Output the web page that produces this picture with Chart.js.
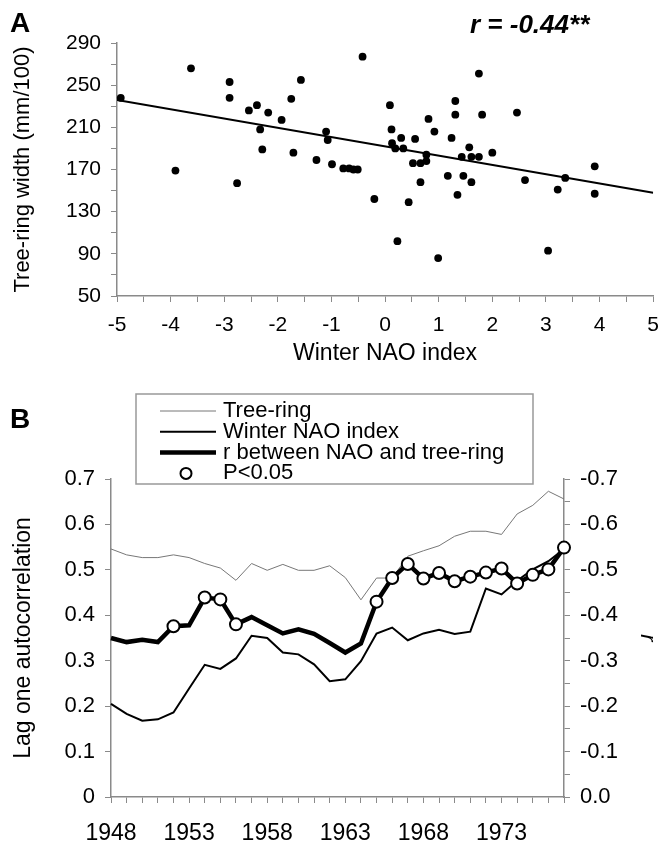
<!DOCTYPE html>
<html>
<head>
<meta charset="utf-8">
<script src="https://cdn.jsdelivr.net/npm/chart.js@4.4.1/dist/chart.umd.min.js"></script>
<style>
  body { margin: 0; background: #fff; font-family: "Liberation Sans", Arial, sans-serif; }
  #wrap { position: relative; width: 670px; height: 845px; overflow: hidden; }
  canvas { position: absolute; left: 0; }
  .tag { position: absolute; font-weight: bold; line-height: 1; color: #000; }
</style>
</head>
<body>
<div id="wrap">
  <canvas id="chartA" width="670" height="380" style="top:0"></canvas>
  <canvas id="chartB" width="670" height="465" style="top:380px"></canvas>
  <div class="tag" style="left:10px; top:9px; font-size:28px;">A</div>
  <div class="tag" style="left:10px; top:405px; font-size:28px;">B</div>
  <div class="tag" style="left:470px; top:11px; font-size:26px; font-style:italic;">r = -0.44**</div>
</div>
<script>
// panel A: winter NAO index vs tree-ring width
const naoIndex = [-4.93, -3.62, -3.91, -2.90, -2.90, -2.76, -2.54, -2.39, -2.33, -2.29, -2.18,
  -1.93, -1.75, -1.71, -1.57, -1.28, -1.10, -1.07, -0.99, -0.78, -0.67, -0.59, -0.51, -0.42,
  -0.20, 0.09, 0.12, 0.13, 0.19, 0.23, 0.30, 0.34, 0.44, 0.52, 0.56, 0.66, 0.66, 0.77, 0.77,
  0.81, 0.92, 0.99, 1.17, 1.24, 1.31, 1.31, 1.35, 1.43, 1.46, 1.57, 1.61, 1.61, 1.75, 1.75,
  1.81, 2.00, 2.46, 2.61, 3.04, 3.22, 3.36, 3.91, 3.91];
const ringWidth = [238, 266, 169, 253, 238, 157, 226, 231, 208, 189, 224,
  217, 237, 186, 255, 179, 206, 198, 175, 171, 171, 170, 170, 277,
  142, 231, 208, 195, 190, 102, 200, 190, 139, 176, 199, 176, 158, 184, 178,
  218, 206, 86, 164, 200, 235, 222, 146, 182, 164, 191, 182, 158, 261, 182,
  222, 186, 224, 160, 93, 151, 162, 173, 147];
const trendX = [-5, 5];
const trendY = [236, 148];

// panel B: lag one autocorrelation (left) and r (right)
const years = [];
for (let y = 1948; y <= 1977; y++) years.push(y);
const treeRing = [0.546, 0.533, 0.527, 0.527, 0.533, 0.527, 0.514, 0.504, 0.477, 0.514,
  0.499, 0.512, 0.499, 0.499, 0.509, 0.483, 0.434, 0.482, 0.482, 0.530,
  0.542, 0.553, 0.574, 0.585, 0.585, 0.578, 0.623, 0.642, 0.673, 0.656];
const naoAuto = [0.205, 0.183, 0.168, 0.171, 0.186, 0.239, 0.291, 0.282, 0.305, 0.355,
  0.350, 0.318, 0.314, 0.292, 0.255, 0.259, 0.299, 0.360, 0.373, 0.345,
  0.360, 0.368, 0.359, 0.364, 0.459, 0.446, 0.476, 0.501, 0.519, 0.546];
const rNaoRing = [-0.350, -0.341, -0.346, -0.341, -0.376, -0.378, -0.439, -0.435, -0.380, -0.396,
  -0.378, -0.360, -0.369, -0.359, -0.339, -0.318, -0.338, -0.430, -0.482, -0.513,
  -0.481, -0.493, -0.475, -0.485, -0.494, -0.503, -0.470, -0.489, -0.501, -0.549];
const significant = [0, 0, 0, 0, 1, 0, 1, 1, 1, 0, 0, 0, 0, 0, 0, 0, 0, 1, 1, 1, 1, 1, 1, 1, 1, 1, 1, 1, 1, 1];

const FONT = "'Liberation Sans', Arial, sans-serif";
const AXIS = "#8a8a8a";

const points = naoIndex.map((x, i) => ({ x: x, y: ringWidth[i] }));
const trend = trendX.map((x, i) => ({ x: x, y: trendY[i] }));

new Chart(document.getElementById("chartA"), {
  type: "scatter",
  data: {
    datasets: [
      { data: points, pointRadius: 3.9, pointBackgroundColor: "#000", pointBorderWidth: 0, clip: false },
      { type: "line", data: trend, borderColor: "#000", borderWidth: 2, pointRadius: 0, tension: 0 }
    ]
  },
  options: {
    responsive: false,
    animation: false,
    layout: { padding: { left: 0, right: 13, top: 43, bottom: 0 } },
    plugins: { legend: { display: false }, tooltip: { enabled: false } },
    scales: {
      x: {
        type: "linear", min: -5, max: 5,
        afterFit: s => { s.height = 84; },
        ticks: {
          stepSize: 0.5, autoSkip: false, maxRotation: 0, padding: 11, color: "#000",
          font: { family: FONT, size: 21 },
          callback: v => Number.isInteger(v) ? String(v) : ""
        },
        grid: { drawOnChartArea: false, tickLength: 6, color: AXIS },
        border: { color: AXIS, width: 1.5 },
        title: { display: true, text: "Winter NAO index", color: "#000", font: { family: FONT, size: 23 }, padding: { top: 0, bottom: 13 } }
      },
      y: {
        min: 50, max: 290,
        afterFit: s => { s.width = 117; },
        ticks: {
          stepSize: 20, autoSkip: false, padding: 10, color: "#000",
          font: { family: FONT, size: 21 },
          callback: v => (v - 50) % 40 === 0 ? String(v) : ""
        },
        grid: { drawOnChartArea: false, tickLength: 6, color: AXIS },
        border: { color: AXIS, width: 1.5 },
        title: { display: true, text: "Tree-ring width (mm/100)", color: "#000", font: { family: FONT, size: 22 }, padding: { top: 10, bottom: 0 } }
      }
    }
  }
});

// boxed legend of panel B, drawn over the top of the plot
const legendItems = [
  { text: "Tree-ring", kind: "line", color: "#777", width: 1 },
  { text: "Winter NAO index", kind: "line", color: "#000", width: 2 },
  { text: "r between NAO and tree-ring", kind: "line", color: "#000", width: 4.5 },
  { text: "P<0.05", kind: "dot" }
];
const boxLegend = {
  id: "boxLegend",
  afterDraw(chart) {
    const ctx = chart.ctx;
    ctx.save();
    ctx.fillStyle = "#fff";
    ctx.fillRect(136, 14, 397, 90);
    ctx.strokeStyle = "#999";
    ctx.lineWidth = 1.5;
    ctx.strokeRect(136, 14, 397, 90);
    ctx.font = "22px " + FONT;
    ctx.textBaseline = "alphabetic";
    ctx.fillStyle = "#000";
    legendItems.forEach((item, i) => {
      const base = 37 + i * 20.8;
      const my = base - 6;
      if (item.kind === "line") {
        ctx.strokeStyle = item.color;
        ctx.lineWidth = item.width;
        ctx.beginPath();
        ctx.moveTo(160, my);
        ctx.lineTo(216, my);
        ctx.stroke();
      } else {
        ctx.beginPath();
        ctx.arc(186, my, 5.5, 0, Math.PI * 2);
        ctx.fillStyle = "#fff";
        ctx.fill();
        ctx.strokeStyle = "#000";
        ctx.lineWidth = 2;
        ctx.stroke();
        ctx.fillStyle = "#000";
      }
      ctx.fillText(item.text, 223, base);
    });
    ctx.restore();
  }
};

new Chart(document.getElementById("chartB"), {
  type: "line",
  data: {
    labels: years,
    datasets: [
      { label: "Tree-ring", data: treeRing, borderColor: "#777", borderWidth: 1, pointRadius: 0, tension: 0, yAxisID: "y", order: 3 },
      { label: "Winter NAO index", data: naoAuto, borderColor: "#000", borderWidth: 2, pointRadius: 0, tension: 0, yAxisID: "y", order: 2 },
      { label: "r between NAO and tree-ring", data: rNaoRing, borderColor: "#000", borderWidth: 4.5, pointRadius: 0, tension: 0, yAxisID: "y1", order: 1 },
      {
        label: "P<0.05", data: rNaoRing.map((v, i) => significant[i] ? v : null),
        showLine: false, pointRadius: 6, pointBackgroundColor: "#fff", pointBorderColor: "#000",
        pointBorderWidth: 2, yAxisID: "y1", order: 0, clip: false
      }
    ]
  },
  options: {
    responsive: false,
    animation: false,
    layout: { padding: { left: 0, right: 0, top: 99, bottom: 0 } },
    plugins: { legend: { display: false }, tooltip: { enabled: false } },
    scales: {
      x: {
        type: "category", offset: false,
        afterFit: s => { s.height = 48; },
        ticks: {
          autoSkip: false, maxRotation: 0, padding: 17, color: "#000",
          font: { family: FONT, size: 23 },
          callback: (v, i) => (years[i] - 1948) % 5 === 0 ? String(years[i]) : ""
        },
        grid: { drawOnChartArea: false, offset: false, tickLength: 6, color: AXIS },
        border: { color: AXIS, width: 1.5 }
      },
      y: {
        position: "left", min: 0, max: 0.7,
        afterFit: s => { s.width = 111; },
        ticks: {
          stepSize: 0.1, padding: 10, color: "#000",
          font: { family: FONT, size: 22 },
          callback: v => v === 0 ? "0" : v.toFixed(1)
        },
        grid: { drawOnChartArea: false, tickLength: 6, color: AXIS },
        border: { color: AXIS, width: 1.5 },
        title: { display: true, text: "Lag one autocorrelation", color: "#000", font: { family: FONT, size: 23 }, padding: { top: 10, bottom: 0 } }
      },
      y1: {
        position: "right", min: -0.7, max: 0, reverse: true,
        afterFit: s => { s.width = 106; },
        ticks: {
          stepSize: 0.05, autoSkip: false, padding: 10, color: "#000",
          font: { family: FONT, size: 22 },
          callback: v => Math.abs(Math.round(v * 20)) % 2 === 0 ? (Math.abs(v) < 1e-9 ? "0.0" : v.toFixed(1)) : ""
        },
        grid: { drawOnChartArea: false, tickLength: 6, color: AXIS },
        border: { color: AXIS, width: 1.5 },
        title: { display: true, text: "r", color: "#000", font: { family: FONT, size: 22, style: "italic" }, padding: { top: 10, bottom: 0 } }
      }
    }
  },
  plugins: [boxLegend]
});
</script>
</body>
</html>
